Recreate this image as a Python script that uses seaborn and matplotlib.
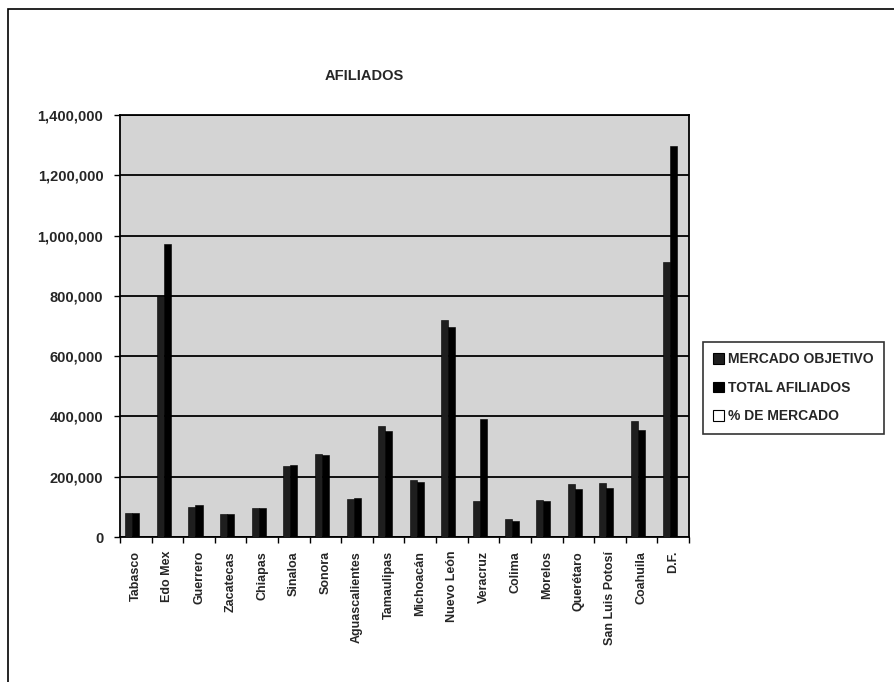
import matplotlib
matplotlib.use("Agg")
import matplotlib.pyplot as plt
import matplotlib.patches as mpatches
from matplotlib.ticker import FuncFormatter, FixedLocator
import seaborn as sns
import pandas as pd

estados = ["Tabasco", "Edo Mex", "Guerrero", "Zacatecas", "Chiapas", "Sinaloa",
           "Sonora", "Aguascalientes", "Tamaulipas", "Michoacán", "Nuevo León",
           "Veracruz", "Colima", "Morelos", "Querétaro", "San Luis Potosí",
           "Coahuila", "D.F."]
mercado_objetivo = [80000, 800000, 100000, 77000, 96000, 236000, 275000, 125000,
                    369000, 189000, 719000, 119000, 59000, 122000, 175000, 178000,
                    384000, 913000]
total_afiliados = [78000, 973000, 107000, 75000, 95000, 239000, 272000, 130000,
                   352000, 183000, 697000, 392000, 53000, 119000, 158000, 163000,
                   354000, 1297000]
pct_mercado = [0] * len(estados)  # not visible at this scale
series = ["MERCADO OBJETIVO", "TOTAL AFILIADOS", "% DE MERCADO"]
colores = ["#1e1e1e", "#000000", "#ffffff"]
titulo = "AFILIADOS"

rows = []
for i, e in enumerate(estados):
    rows.append((e, series[0], mercado_objetivo[i]))
    rows.append((e, series[1], total_afiliados[i]))
    rows.append((e, series[2], pct_mercado[i]))
df = pd.DataFrame(rows, columns=["Estado", "Serie", "Valor"])

sns.set_theme(style="white")
plt.rcParams["font.family"] = ["Liberation Sans", "DejaVu Sans"]

fig = plt.figure(figsize=(8.94, 6.82), dpi=100)
ax = fig.add_axes([0.1342, 0.2126, 0.6365, 0.6188])
ax.set_facecolor("#d4d4d4")

sns.barplot(data=df, x="Estado", y="Valor", hue="Serie", order=estados,
            hue_order=series, palette=colores, width=0.667,
            edgecolor="black", linewidth=0.4, legend=False, ax=ax, zorder=3)

ax.set_ylim(0, 1400000)
ax.set_xlim(-0.5, len(estados) - 0.5)
ax.set_yticks(range(0, 1400001, 200000))
ax.yaxis.set_major_formatter(FuncFormatter(lambda v, p: f"{int(v):,}"))
ax.grid(axis="y", color="black", linewidth=1.3, zorder=1)
ax.set_axisbelow(True)
ax.set_xlabel("")
ax.set_ylabel("")

ax.set_xticks(range(len(estados)))
ax.set_xticklabels(estados, rotation=90, fontsize=9, fontweight="bold")
ax.xaxis.set_minor_locator(FixedLocator([i - 0.5 for i in range(len(estados) + 1)]))
ax.tick_params(axis="x", which="major", length=0, pad=10)
ax.tick_params(axis="x", which="minor", length=4, width=1, color="black", direction="out", bottom=True)
ax.tick_params(axis="y", length=4, width=1, color="black", direction="out", left=True, pad=8, labelsize=10.5)
for lab in ax.get_yticklabels():
    lab.set_fontweight("bold")

for s in ax.spines.values():
    s.set_color("black")
    s.set_linewidth(1.3)

fig.text(0.407, 0.889, titulo, ha="center", va="center", fontsize=10.5, fontweight="bold")

handles = [mpatches.Patch(facecolor=c, edgecolor="black", linewidth=0.8) for c in colores]
leg = fig.legend(handles, series, loc="upper left", bbox_to_anchor=(0.786, 0.499),
                 frameon=True, fancybox=False, edgecolor="black",
                 prop={"size": 10, "weight": "bold"},
                 handlelength=0.8, handleheight=0.8, handletextpad=0.3,
                 labelspacing=1.05, borderpad=0.75, borderaxespad=0)
leg.get_frame().set_linewidth(1.2)

frame = mpatches.Rectangle((8 / 894, -0.2), 1.2, 1.2 - 9 / 682, transform=fig.transFigure,
                           fill=False, edgecolor="black", linewidth=1.2)
fig.add_artist(frame)

fig.savefig("out.png", dpi=100)
